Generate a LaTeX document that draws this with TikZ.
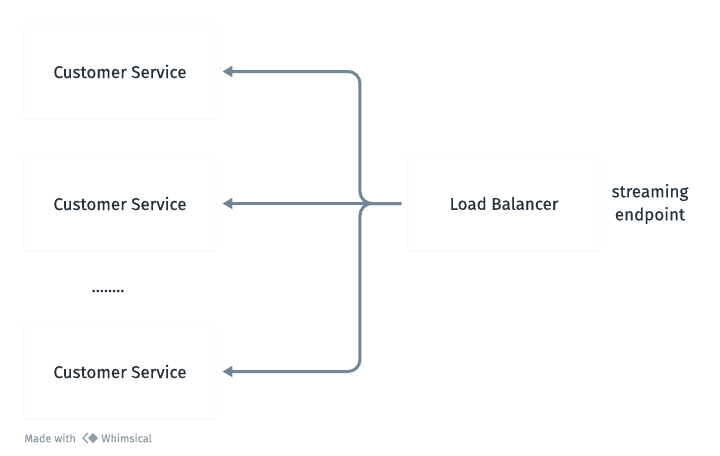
\documentclass[tikz,border=0pt]{standalone}
\usepackage{fontspec}
\setmainfont{Fira Sans}[FakeBold=0.3]
\usetikzlibrary{arrows.meta,positioning,shadows}
\definecolor{linkgray}{HTML}{718796}
\definecolor{inkdark}{HTML}{26323C}
\definecolor{markgray}{HTML}{8D9BA6}
\begin{document}
\begin{tikzpicture}[x=0.5pt,y=-0.5pt,>={Triangle[length=5pt,width=5.5pt]},font=\fontsize{8.5}{11.5}\selectfont,text=inkdark]
        \tikzset{svcbox/.style={fill=white, draw=black!2.5, line width=0.5pt, rounded corners=1pt, minimum width=96pt, minimum height=47.5pt, align=center,
            drop shadow={shadow xshift=0pt, shadow yshift=-0.5pt, opacity=0.04, fill=black}},
          link/.style={->, draw=linkgray, line width=1.5pt, rounded corners=6pt, shorten >=3pt, shorten <=3pt}}
        \useasboundingbox (0,0) rectangle (720,456);
        \node[svcbox] (cs1) at (120,71.5) {Customer Service};
        \node[svcbox] (cs2) at (120,203.5) {Customer Service};
        \node (dots) at (108,291) {........};
        \node[svcbox] (cs3) at (120,371.5) {Customer Service};
        \node[svcbox] (lb) at (504,203.5) {Load Balancer};
        \node[align=center] (stream) at (650,204) {streaming\\endpoint};
        \coordinate (split) at (360,203.5);
        \draw[link] (lb.west) -- (split) |- (cs1.east);
        \draw[link] (lb.west) -- (cs2.east);
        \draw[link] (lb.west) -- (split) |- (cs3.east);
        % footer mark
        \node[anchor=west, inner sep=0pt, text=markgray, font=\fontsize{5.5}{6}\selectfont] (made) at (24,438) {Made with};
        \node[anchor=west, inner sep=0pt, text=markgray, font=\fontsize{5.5}{6}\selectfont] (whim) at (101,438) {Whimsical};
        \fill[markgray] (93,433) -- (98,438) -- (93,443) -- (88,438) -- cycle;
        \draw[markgray, line width=0.7pt] (88,433) -- (83,438) -- (88,443);
    \end{tikzpicture}
\end{document}
